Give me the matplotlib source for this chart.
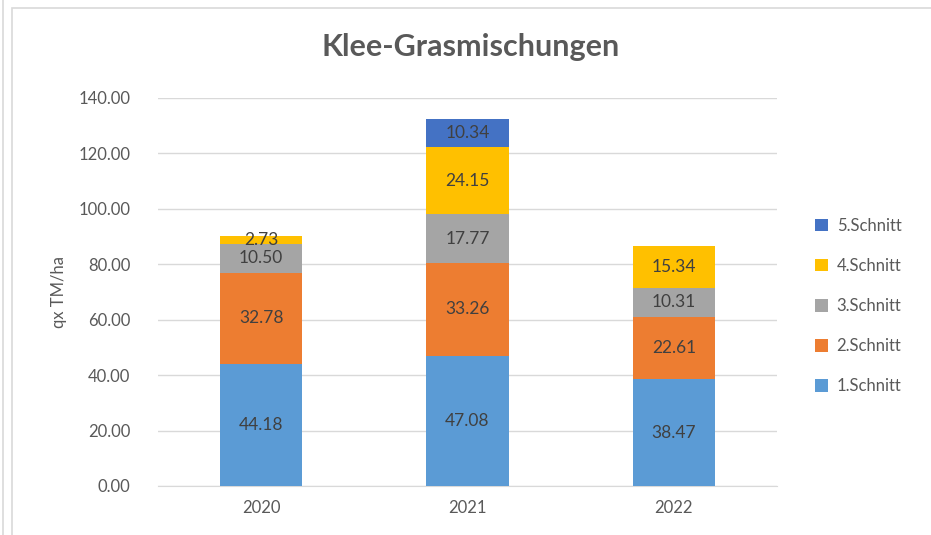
import matplotlib.pyplot as plt
from matplotlib.patches import Rectangle
from matplotlib.lines import Line2D
import numpy as np

plt.rcParams['font.family'] = ['Lato', 'DejaVu Sans']

years = ["2020", "2021", "2022"]
schnitte = ["1.Schnitt", "2.Schnitt", "3.Schnitt", "4.Schnitt", "5.Schnitt"]
s1 = [44.18, 47.08, 38.47]
s2 = [32.78, 33.26, 22.61]
s3 = [10.50, 17.77, 10.31]
s4 = [2.73, 24.15, 15.34]
s5 = [0.0, 10.34, 0.0]
colors = ["#5B9BD5", "#ED7D31", "#A5A5A5", "#FFC000", "#4472C4"]
yticks = [0, 20, 40, 60, 80, 100, 120, 140]

W, H = 931, 535
fig = plt.figure(figsize=(W / 100, H / 100), dpi=100)
ax = fig.add_axes([158 / W, 1 - 486 / H, 619 / W, 388 / H])

# chart border
fig.patches.append(Rectangle((12 / W, -0.05), 1.1, 1 - 8 / H + 0.05, transform=fig.transFigure,
                             fill=False, edgecolor="#D9D9D9", linewidth=1.2))
fig.lines.append(Line2D([3 / W, 3 / W], [0, 1], transform=fig.transFigure, color="#D9D9D9", linewidth=1.2))

x = np.arange(len(years))
bottom = np.zeros(len(years))
handles = []
for name, vals, c in zip(schnitte, [s1, s2, s3, s4, s5], colors):
    vals = np.array(vals)
    bars = ax.bar(x, vals, 0.4, bottom=bottom, color=c, zorder=3, label=name)
    handles.append(bars)
    for xi, v, b in zip(x, vals, bottom):
        if v > 0:
            ax.text(xi, b + v / 2, f"{v:.2f}", ha="center", va="center",
                    fontsize=12.5, color="#404040", zorder=4)
    bottom += vals

ax.set_xlim(-0.5, 2.5)
ax.set_ylim(0, 140)
ax.set_yticks(yticks)
ax.set_yticklabels([f"{t:.2f}" for t in yticks])
ax.set_xticks(x)
ax.set_xticklabels(years)
ax.grid(axis="y", color="#D9D9D9", linewidth=1, zorder=0)
for s in ["top", "right", "left"]:
    ax.spines[s].set_visible(False)
ax.spines["bottom"].set_color("#D9D9D9")
ax.tick_params(axis="both", length=0, labelsize=12, colors="#595959", pad=10)
ax.tick_params(axis="y", pad=20)
ax.set_ylabel("qx TM/ha", fontsize=12, color="#595959", labelpad=8)

fig.text(471 / W, 1 - 47 / H, "Klee-Grasmischungen", ha="center", va="center",
         fontsize=22, fontweight="bold", color="#595959")

leg = fig.legend(handles[::-1], schnitte[::-1], loc="center left",
                 bbox_to_anchor=(800 / W, 1 - 306 / H), frameon=False,
                 fontsize=12, labelspacing=1.45, handlelength=0.8, handleheight=0.8,
                 handletextpad=0.5)
for t in leg.get_texts():
    t.set_color("#595959")

fig.savefig("out.png", dpi=100)
